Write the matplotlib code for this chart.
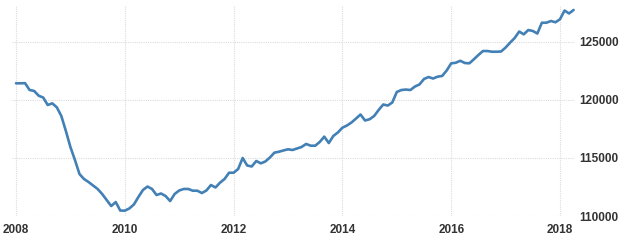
import numpy as np
import matplotlib
matplotlib.use("Agg")
import matplotlib.pyplot as plt

start_year = 2008
values = [
    121440, 121440, 121450, 120860, 120780, 120370, 120210, 119570, 119710, 119370,
    118620, 117330, 115950, 114830, 113620, 113190, 112930, 112630, 112330, 111900,
    111380, 110860, 111200, 110470, 110460, 110650, 110990, 111640, 112240, 112540,
    112330, 111810, 111940, 111720, 111290, 111900, 112200, 112330, 112330, 112180,
    112180, 111980, 112200, 112670, 112460, 112870, 113190, 113730, 113730, 114050,
    115000, 114350, 114270, 114740, 114540, 114700, 115040, 115460, 115540, 115650,
    115750, 115690, 115820, 115950, 116210, 116060, 116060, 116380, 116840, 116290,
    116900, 117200, 117610, 117800, 118060, 118400, 118750, 118230, 118340, 118620,
    119140, 119610, 119520, 119780, 120690, 120860, 120900, 120860, 121160, 121340,
    121810, 121980, 121850, 122010, 122070, 122540, 123160, 123210, 123380, 123190,
    123160, 123510, 123880, 124220, 124220, 124160, 124160, 124180, 124520, 124950,
    125340, 125900, 125660, 126030, 125950, 125730, 126660, 126660, 126810, 126700,
    126960, 127710, 127460, 127760,
]
x_ticks = [2008, 2010, 2012, 2014, 2016, 2018]
y_ticks = [110000, 115000, 120000, 125000]

t = start_year + np.arange(len(values)) / 12.0

fig = plt.figure(figsize=(6.21, 2.49), dpi=100)
ax = fig.add_axes([12/621, 33/249, (575-12)/621, (216-5)/249])

ax.plot(t, values, color="#4280b5", lw=1.9, solid_joinstyle="round", solid_capstyle="round")

ax.set_xlim(2008 - 4/54.4, 2008 + 559/54.4)
ax.set_ylim(110000, 110000 + 211*86.2)
ax.set_xticks(x_ticks)
ax.set_yticks(y_ticks)
ax.set_xticklabels([str(v) for v in x_ticks])
ax.set_yticklabels([str(v) for v in y_ticks])
ax.yaxis.tick_right()
ax.tick_params(axis="both", length=0, labelsize=8.5, labelcolor="#333333")
ax.tick_params(axis="x", pad=6)
ax.tick_params(axis="y", pad=3)
for lab in ax.get_xticklabels() + ax.get_yticklabels():
    lab.set_fontfamily("Liberation Sans")
    lab.set_fontweight("bold")

ax.grid(True, color="#dcdcdc", linestyle=(0, (1, 1)), lw=0.8)
ax.set_axisbelow(True)
for s in ax.spines.values():
    s.set_visible(False)

fig.savefig("out.png", dpi=100, facecolor="white")
